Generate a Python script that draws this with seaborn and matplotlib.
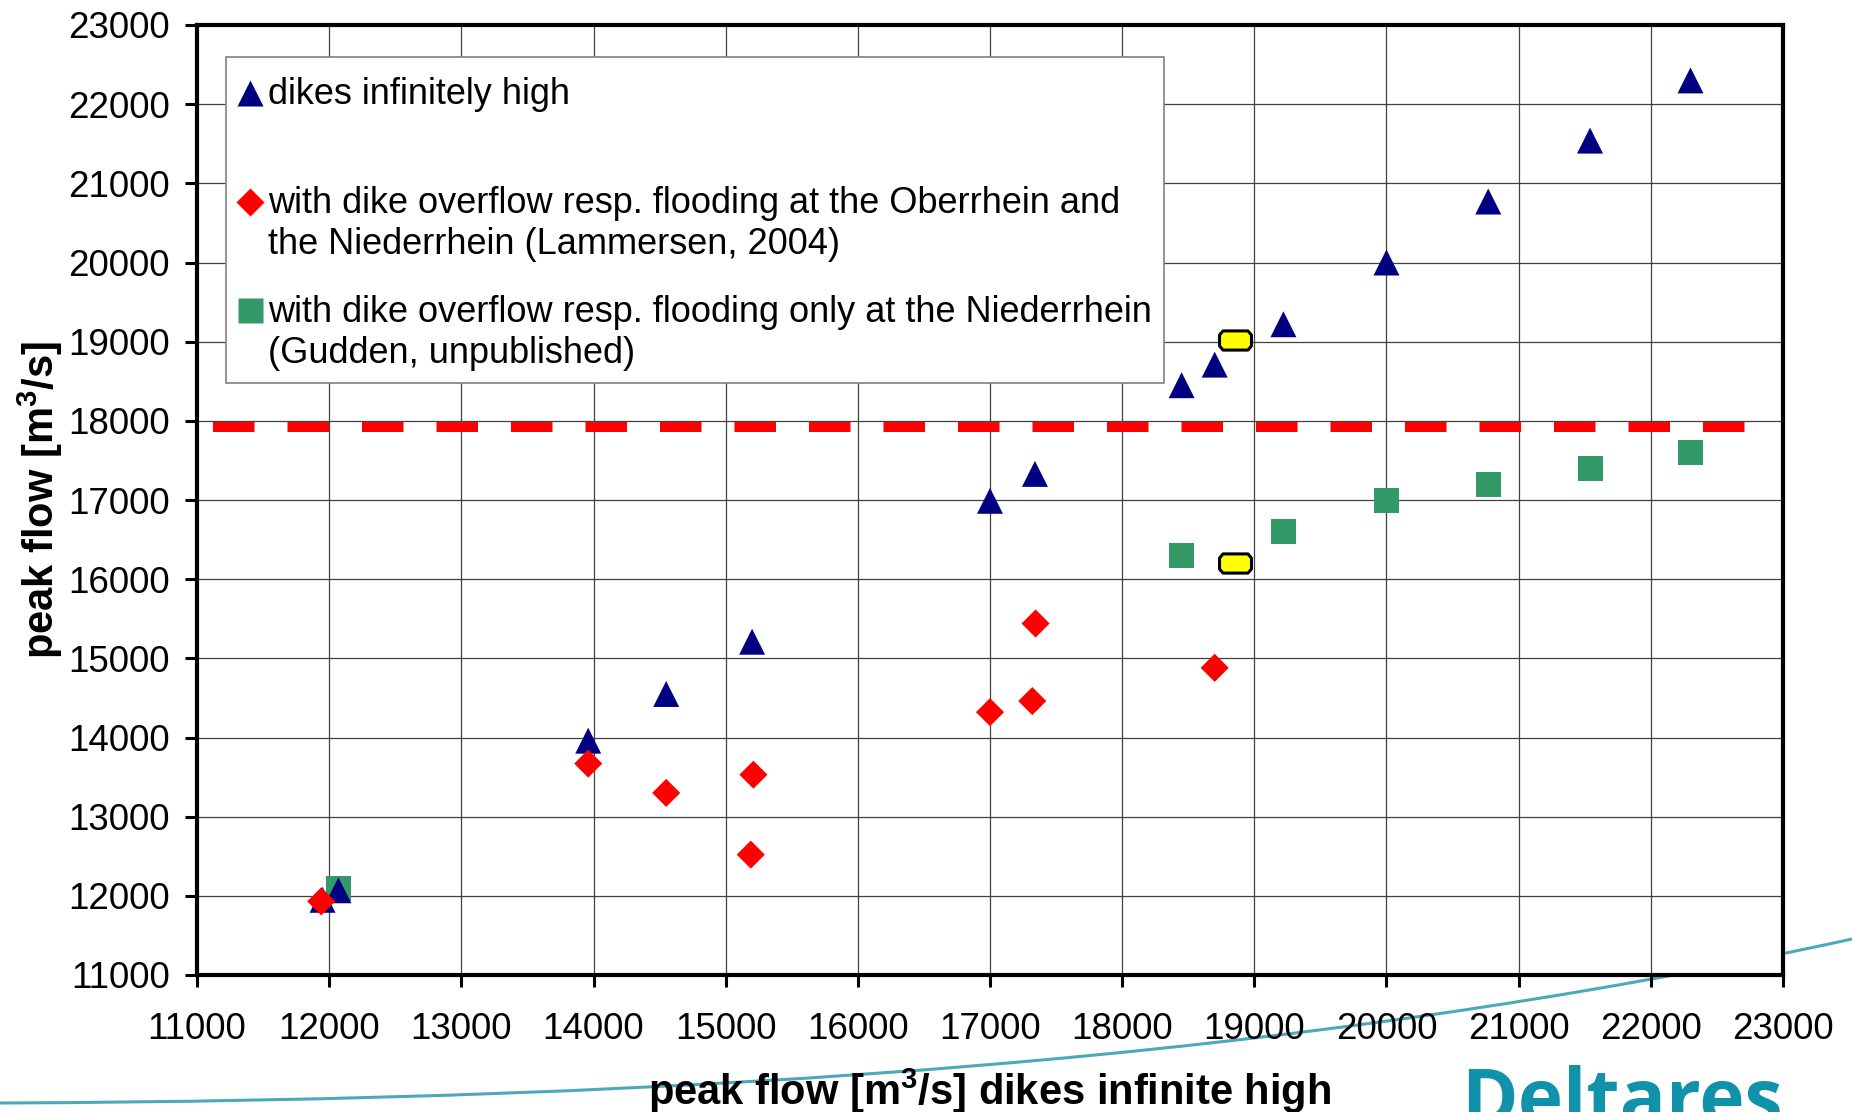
import numpy as np
import matplotlib
matplotlib.use("Agg")
import matplotlib.pyplot as plt
import seaborn as sns
from matplotlib.lines import Line2D
from matplotlib.path import Path
from matplotlib.patches import PathPatch, Rectangle
from matplotlib.transforms import IdentityTransform
from matplotlib.legend_handler import HandlerLine2D

# data
dikes_x = [11950, 12070, 13960, 14550, 15200, 17000, 17340, 18450, 18700, 19220, 20000, 20770, 21540, 22300]
dikes_y = [11950, 12070, 13960, 14550, 15210, 16990, 17330, 18450, 18710, 19220, 20000, 20770, 21540, 22300]

ober_x = [11940, 13960, 14550, 15210, 15190, 17000, 17320, 17345, 18700]
ober_y = [11930, 13670, 13300, 13530, 12520, 14320, 14460, 15440, 14880]

nieder_x = [12070, 18450, 19220, 20000, 20770, 21540, 22300]
nieder_y = [12090, 16300, 16600, 17000, 17200, 17400, 17600]

yellow_x = [18850, 18850]
yellow_y = [19020, 16200]

limit_y = 17920
limit_x = [11120, 22720]

ticks = list(range(11000, 23001, 1000))

labels = ["dikes infinitely high\n ",
          "with dike overflow resp. flooding at the Oberrhein and\nthe Niederrhein (Lammersen, 2004)",
          "with dike overflow resp. flooding only at the Niederrhein\n(Gudden, unpublished)"]

sns.set_theme(style="white")
plt.rcParams['font.family'] = ['Liberation Sans', 'DejaVu Sans']
plt.rcParams['text.color'] = 'black'
plt.rcParams['mathtext.fontset'] = 'custom'
plt.rcParams['mathtext.rm'] = 'Liberation Sans'
plt.rcParams['mathtext.bf'] = 'Liberation Sans:bold'

navy = '#000080'
red = '#FF0000'
green = '#339966'
yellow = '#FFFF00'
teal = '#1192AB'

fig = plt.figure(figsize=(18.52, 11.12), dpi=100)

# background swoosh, figure pixels, behind the plot
bg = fig.add_axes([0, 0, 1, 1], zorder=0)
bg.set_xlim(0, 1852)
bg.set_ylim(1112, 0)
bg.axis('off')
swoosh = Path([(0, 1103), (700, 1100), (1300, 1060), (1852, 939)],
              [Path.MOVETO, Path.CURVE4, Path.CURVE4, Path.CURVE4])
bg.add_patch(PathPatch(swoosh, fc='none', ec='#4BA9BA', lw=2.2))

ax = fig.add_axes([197/1852, 1-975/1112, 1586/1852, 950/1112], zorder=1)
ax.set_facecolor('white')

oct_marker = Path([(-1, 0.34), (-0.78, 0.6), (0.78, 0.6), (1, 0.34), (1, -0.34),
                   (0.78, -0.6), (-0.78, -0.6), (-1, -0.34), (-1, 0.34)], closed=True)

sns.lineplot(x=limit_x, y=[limit_y, limit_y], ax=ax, color=red, lw=7.2,
             dashes=False, zorder=2)
ax.lines[-1].set_dashes((4.15, 3.3))
ax.lines[-1].set_dash_capstyle('butt')

sns.scatterplot(x=yellow_x, y=yellow_y, ax=ax, marker=oct_marker, s=23**2,
                color=yellow, edgecolor='black', linewidth=2.2, zorder=2.5)
sns.scatterplot(x=nieder_x, y=nieder_y, ax=ax, marker='s', s=18**2,
                color=green, edgecolor='none', linewidth=0, zorder=3)
sns.scatterplot(x=dikes_x, y=dikes_y, ax=ax, marker='^', s=18.7**2,
                color=navy, edgecolor='none', linewidth=0, zorder=3.5)
sns.scatterplot(x=ober_x, y=ober_y, ax=ax, marker='D', s=14.3**2,
                color=red, edgecolor='none', linewidth=0, zorder=4)

ax.set_xlim(11000, 23000)
ax.set_ylim(11000, 23000)
ax.set_xticks(ticks)
ax.set_yticks(ticks)
ax.grid(True, color='#404040', lw=0.9)
ax.set_axisbelow(True)
for sp in ax.spines.values():
    sp.set_visible(True)
    sp.set_color('black')
    sp.set_linewidth(3)
ax.tick_params(axis='both', which='major', direction='out', length=8.6, width=2.2,
               color='black', labelsize=26.5, labelcolor='black')
ax.tick_params(axis='y', pad=11, left=True)
ax.tick_params(axis='x', pad=18, bottom=True)

ax.set_xlabel(r'peak flow [m$^{\mathbf{3}}$/s] dikes infinite high', fontsize=30,
              fontweight='bold', color='black')
ax.set_ylabel(r'peak flow [m$^{\mathbf{3}}$/s]', fontsize=30, fontweight='bold', color='black')
ax.xaxis.set_label_coords(0.5, -0.096)
ax.yaxis.set_label_coords(-0.083, 0.5)


class TopLineHandler(HandlerLine2D):
    # put the marker level with the first text line
    def create_artists(self, legend, orig_handle, xdescent, ydescent, width, height, fontsize, trans):
        arts = super().create_artists(legend, orig_handle, xdescent, ydescent, width, height, fontsize, trans)
        for a in arts:
            a.set_ydata(np.full(len(a.get_ydata()), 1.0 * fontsize))
        return arts


handles = [Line2D([], [], ls='', marker='^', ms=18.7, color=navy, mec='none'),
           Line2D([], [], ls='', marker='D', ms=14.3, color=red, mec='none'),
           Line2D([], [], ls='', marker='s', ms=18, color=green, mec='none')]

extra_top = 8.5  # the Excel legend has more room above the first entry
leg = ax.legend(handles, labels, loc='upper left',
                bbox_to_anchor=(0.0183, 1 - (57 + extra_top - 25) / 950),
                borderaxespad=0, fontsize=26, frameon=False,
                handlelength=0.68, handletextpad=0.16, borderpad=0.33,
                labelspacing=0.92, labelcolor='black',
                handler_map={Line2D: TopLineHandler(numpoints=1)})
leg.set_zorder(5)
for t in leg.get_texts():
    t.set_linespacing(1.21)

fig.canvas.draw()
bb = leg.get_window_extent()
frame = Rectangle((bb.x0, bb.y0), bb.width, bb.height + extra_top,
                  transform=IdentityTransform(), fc='white', ec='#808080',
                  lw=1.2, zorder=4.5, clip_on=False)
ax.add_patch(frame)

# logo text, fitted to its width
logo = fig.text(1461/1852, -0.0108, 'Deltares', color=teal, fontsize=56,
                fontweight='bold', family='Open Sans', ha='left', va='baseline')
fig.canvas.draw()
w = logo.get_window_extent().width
logo.set_fontsize(56 * 322 / w)

fig.savefig('out.png', dpi=100)
